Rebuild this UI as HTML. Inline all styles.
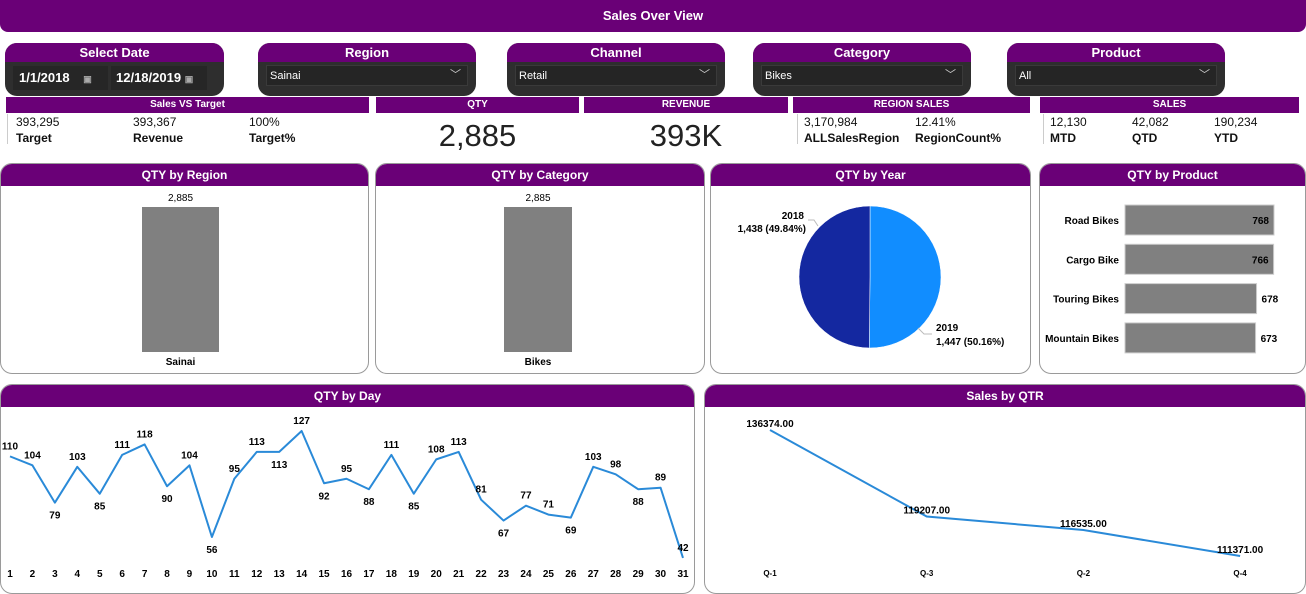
<!DOCTYPE html>
<html><head><meta charset="utf-8">
<style>
*{box-sizing:border-box;margin:0;padding:0}
body{width:1306px;height:582px;background:#fff;position:relative;overflow:hidden;font-family:"Liberation Sans",sans-serif;color:#111}
.abs{position:absolute}
.purple{background:#6a0077;color:#fff;font-weight:bold;text-align:center}
.slicer{position:absolute;top:43px;height:53px;background:#2e2e2e;border-radius:12px;overflow:hidden}
.slicer .hd{height:19px;font-size:13px;line-height:19px}
.slicer .dd{position:absolute;top:22px;left:8px;right:8px;height:21px;background:#252525;border:1px solid #3a3a3a;color:#fff;font-size:11px;line-height:20px;padding-left:3px}
.slicer .dd .chev{position:absolute;right:6px;top:-1px;font-size:11px;color:#ccc}
.chdr{position:absolute;top:97px;height:16px;font-size:10px;line-height:16px}
.kv{position:absolute;font-size:12px;line-height:16px}
.panel{position:absolute;background:#fff;border:1px solid #9a9a9a;border-radius:12px;overflow:hidden}
.panel .ph{height:22px;font-size:12px;line-height:22px}
svg text{font-family:"Liberation Sans",sans-serif}
</style></head><body>
<div class="abs purple" style="left:0;top:0;width:1306px;height:32px;line-height:31px;font-size:13px;border-radius:0 0 8px 8px">Sales Over View</div>

<div class="slicer" style="left:5px;width:219px">
 <div class="hd purple">Select Date</div>
 <div class="abs" style="left:8px;top:23px;width:95px;height:24px;background:#262626;color:#fff;font-weight:bold;font-size:13px;line-height:24px;padding-left:6px">1/1/2018 <span style="font-size:9px;color:#aaa;margin-left:10px">▣</span></div>
 <div class="abs" style="left:106px;top:23px;width:96px;height:24px;background:#262626;color:#fff;font-weight:bold;font-size:13px;line-height:24px;padding-left:5px">12/18/2019 <span style="font-size:9px;color:#aaa">▣</span></div>
</div>
<div class="slicer" style="left:258px;width:218px"><div class="hd purple">Region</div><div class="dd">Sainai<span class="chev">﹀</span></div></div>
<div class="slicer" style="left:507px;width:218px"><div class="hd purple">Channel</div><div class="dd">Retail<span class="chev">﹀</span></div></div>
<div class="slicer" style="left:753px;width:218px"><div class="hd purple">Category</div><div class="dd">Bikes<span class="chev">﹀</span></div></div>
<div class="slicer" style="left:1007px;width:218px"><div class="hd purple">Product</div><div class="dd">All<span class="chev">﹀</span></div></div>

<div class="chdr purple" style="left:6px;width:363px">Sales VS Target</div>
<div class="chdr purple" style="left:376px;width:203px">QTY</div>
<div class="chdr purple" style="left:584px;width:204px">REVENUE</div>
<div class="chdr purple" style="left:793px;width:237px">REGION SALES</div>
<div class="chdr purple" style="left:1040px;width:259px">SALES</div>

<div class="abs" style="left:7px;top:114px;width:1px;height:30px;background:#ccc"></div>
<div class="kv" style="left:16px;top:114px">393,295<br><b>Target</b></div>
<div class="kv" style="left:133px;top:114px">393,367<br><b>Revenue</b></div>
<div class="kv" style="left:249px;top:114px">100%<br><b>Target%</b></div>
<div class="abs" style="left:376px;top:118px;width:203px;text-align:center;font-size:31px;color:#222">2,885</div>
<div class="abs" style="left:584px;top:118px;width:204px;text-align:center;font-size:31px;color:#222">393K</div>
<div class="abs" style="left:797px;top:114px;width:1px;height:30px;background:#ccc"></div>
<div class="kv" style="left:804px;top:114px">3,170,984<br><b>ALLSalesRegion</b></div>
<div class="kv" style="left:915px;top:114px">12.41%<br><b>RegionCount%</b></div>
<div class="abs" style="left:1043px;top:114px;width:1px;height:30px;background:#ccc"></div>
<div class="kv" style="left:1050px;top:114px">12,130<br><b>MTD</b></div>
<div class="kv" style="left:1132px;top:114px">42,082<br><b>QTD</b></div>
<div class="kv" style="left:1214px;top:114px">190,234<br><b>YTD</b></div>

<div class="panel" style="left:0;top:163px;width:369px;height:211px"><div class="ph purple">QTY by Region</div></div>
<div class="panel" style="left:375px;top:163px;width:330px;height:211px"><div class="ph purple">QTY by Category</div></div>
<div class="panel" style="left:710px;top:163px;width:321px;height:211px"><div class="ph purple">QTY by Year</div></div>
<div class="panel" style="left:1039px;top:163px;width:267px;height:211px"><div class="ph purple">QTY by Product</div></div>
<div class="panel" style="left:0;top:384px;width:695px;height:210px"><div class="ph purple">QTY by Day</div></div>
<div class="panel" style="left:704px;top:384px;width:602px;height:210px"><div class="ph purple">Sales by QTR</div></div>

<svg id="charts" class="abs" style="left:0;top:0" width="1306" height="582"></svg>

<script>
const regionCats=["Sainai"];const regionVals=[2885];
const categoryCats=["Bikes"];const categoryVals=[2885];
const yearCats=["2018","2019"];const yearVals=[1438,1447];
const productCats=["Road Bikes","Cargo Bike","Touring Bikes","Mountain Bikes"];
const productVals=[768,766,678,673];
const dayCats=[1,2,3,4,5,6,7,8,9,10,11,12,13,14,15,16,17,18,19,20,21,22,23,24,25,26,27,28,29,30,31];
const dayVals=[110,104,79,103,85,111,118,90,104,56,95,113,113,127,92,95,88,111,85,108,113,81,67,77,71,69,103,98,88,89,42];
const qtrCats=["Q-1","Q-3","Q-2","Q-4"];
const qtrVals=[136374,119207,116535,111371];

const svg=document.getElementById('charts');const NS="http://www.w3.org/2000/svg";
function mk(t,a,txt){const e=document.createElementNS(NS,t);for(const k in a)e.setAttribute(k,a[k]);if(txt!==undefined)e.textContent=txt;svg.appendChild(e);return e;}
const fmt=v=>v.toLocaleString('en-US');

function vbar(cats,vals,x0,w,name){
  const yb=352,h=145,max=Math.max(...vals);
  cats.forEach((c,i)=>{const bh=vals[i]/max*h;
    const r=mk('rect',{x:x0,y:yb-bh,width:w,height:bh,fill:'#808080'});
    
    
    const t=mk('text',{x:x0+w/2,y:yb-bh-6,'text-anchor':'middle','font-size':10},fmt(vals[i]));
    
    
    const l=mk('text',{x:x0+w/2,y:365,'text-anchor':'middle','font-size':10,'font-weight':'bold'},c);
    
    
  });
}
vbar(regionCats,regionVals,142,77,'region');
vbar(categoryCats,categoryVals,504,68,'category');

(function(){const cx=870,cy=277,r=71,tot=yearVals.reduce((a,b)=>a+b,0);const cols=['#1428a0','#118dff'];
 const order=[1,0];let ang=-Math.PI/2;
 order.forEach(i=>{const sw=yearVals[i]/tot*2*Math.PI;const a2=ang+sw;
  const x1=cx+r*Math.cos(ang),y1=cy+r*Math.sin(ang),x2=cx+r*Math.cos(a2),y2=cy+r*Math.sin(a2);
  const p=mk('path',{d:`M${cx},${cy}L${x1},${y1}A${r},${r} 0 ${sw>Math.PI?1:0} 1 ${x2},${y2}Z`,fill:cols[i],stroke:'#fff','stroke-width':0.5});
  
  
  ang=a2;});
 const pct=i=>(yearVals[i]/tot*100).toFixed(2)+'%';
 mk('path',{d:'M808,220 L814,220 L818,226',stroke:'#bbb',fill:'none'});
 mk('path',{d:'M918,328 L924,334 L932,334',stroke:'#bbb',fill:'none'});
 const t1=mk('text',{x:804,y:219,'text-anchor':'end','font-size':10,'font-weight':'bold'},yearCats[0]);
 
 
 mk('text',{x:806,y:232,'text-anchor':'end','font-size':10,'font-weight':'bold'},fmt(yearVals[0])+' ('+pct(0)+')');
 const t2=mk('text',{x:936,y:331,'font-size':10,'font-weight':'bold'},yearCats[1]);
 
 
 mk('text',{x:936,y:345,'font-size':10,'font-weight':'bold'},fmt(yearVals[1])+' ('+pct(1)+')');
})();

(function(){const x0=1125,sc=149/768;
 productCats.forEach((c,i)=>{const y=205+i*39.3,w=productVals[i]*sc;
  const r=mk('rect',{x:x0,y:y,width:w,height:30,fill:'#808080',stroke:'#ccc','stroke-width':1});
  
  
  const l=mk('text',{x:1119,y:y+19,'text-anchor':'end','font-size':10,'font-weight':'bold'},c);
  
  
  const inside=w>140;
  const v=mk('text',{x:inside?x0+w-5:x0+w+5,y:y+19,'text-anchor':inside?'end':'start','font-size':10,'font-weight':'bold'},fmt(productVals[i]));
  
  
 });})();

(function(){const X=d=>10+(d-1)*(673/30),Y=v=>537-(v-56)*1.493;
 const pts=dayCats.map((d,i)=>X(d)+','+Y(dayVals[i])).join(' ');
 const pl=mk('polyline',{points:pts,fill:'none',stroke:'#2a8ad8','stroke-width':2,'stroke-linejoin':'round'});
 
 
 dayCats.forEach((d,i)=>{const v=dayVals[i];
  const prev=i>0?dayVals[i-1]:v,next=i<dayVals.length-1?dayVals[i+1]:v;
  const below=(v<prev&&v<next)||(i>0&&v===prev);
  const t=mk('text',{x:X(d),y:below?Y(v)+16:Y(v)-7,'text-anchor':'middle','font-size':10,'font-weight':'bold'},v);
  
  
  const a=mk('text',{x:X(d),y:577,'text-anchor':'middle','font-size':10,'font-weight':'bold'},d);
  
  
 });})();

(function(){const X=i=>770+i*156.7,max=Math.max(...qtrVals),Y=v=>430+(max-v)*0.00504;
 const pts=qtrVals.map((v,i)=>X(i)+','+Y(v)).join(' ');
 const pl=mk('polyline',{points:pts,fill:'none',stroke:'#2a8ad8','stroke-width':2});
 
 
 qtrCats.forEach((c,i)=>{
  const t=mk('text',{x:X(i),y:Y(qtrVals[i])-3,'text-anchor':'middle','font-size':10,'font-weight':'bold'},qtrVals[i].toFixed(2));
  
  
  const a=mk('text',{x:X(i),y:576,'text-anchor':'middle','font-size':8,'font-weight':'bold'},c);
  
  
 });})();
</script>
</body></html>
